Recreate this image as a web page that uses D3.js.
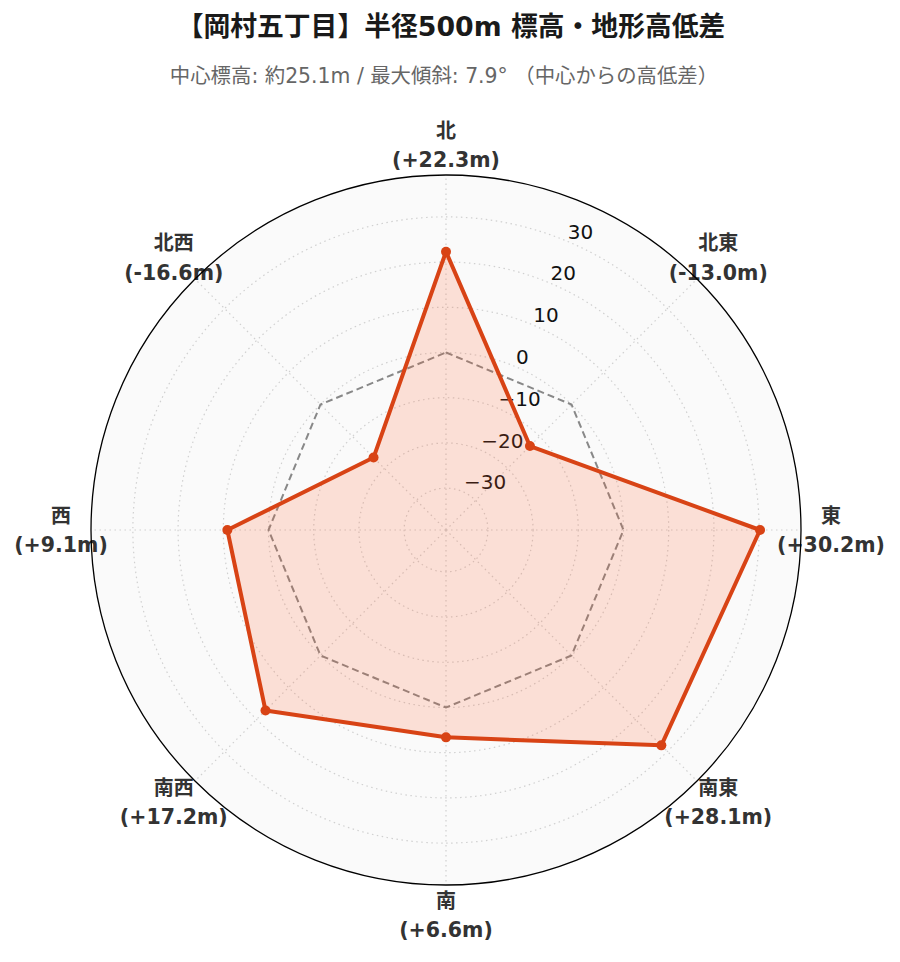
<!DOCTYPE html>
<html>
<head>
<meta charset="utf-8">
<script src="https://cdn.jsdelivr.net/npm/d3@7"></script>
<style>
  body { margin: 0; background: #fff; }
  svg text { font-family: "DejaVu Sans", "Noto Sans CJK JP", sans-serif; }
</style>
</head>
<body>
<svg id="radar"></svg>
<script>
// directions, clockwise from north
var directions = ["北", "北東", "東", "南東", "南", "南西", "西", "北西"]
// elevation difference from centre (m)
var elevDiff = [22.3, -13.0, 30.2, 28.1, 6.6, 17.2, 9.1, -16.6]
var baseline = [0, 0, 0, 0, 0, 0, 0, 0]
var rTicks = [-30, -20, -10, 0, 10, 20, 30]

var titleText = "【岡村五丁目】半径500m 標高・地形高低差"
var subtitleText = "中心標高: 約25.1m / 最大傾斜: 7.9° （中心からの高低差）"

var dimensions = { width: 900, height: 962 }
var cx = 446, cy = 530, R = 355

var svg = d3.select("#radar")
  .attr("width", dimensions.width)
  .attr("height", dimensions.height)

// title
svg.append("text")
  .attr("x", 451).attr("y", 27)
  .attr("dy", "0.35em")
  .attr("text-anchor", "middle")
  .style("font-weight", "bold")
  .style("font-size", "26.8px")
  .style("fill", "#1a1a1a")
  .text(titleText)

svg.append("text")
  .attr("x", 444).attr("y", 76)
  .attr("dy", "0.35em")
  .attr("text-anchor", "middle")
  .style("font-size", "20.4px")
  .style("fill", "#666")
  .text(subtitleText)

// radial scale, limits at +-1.3 x largest difference
var rMax = d3.max(elevDiff, function(d){ return Math.abs(d) }) * 1.3
var r = d3.scaleLinear()
  .domain([-rMax, rMax])
  .range([0, R])

var angle = d3.scalePoint()
  .domain(d3.range(directions.length))
  .range([0, 2 * Math.PI * (directions.length - 1) / directions.length])

var g = svg.append("g")
  .attr("transform", "translate(" + cx + "," + cy + ")")

// background
g.append("circle")
  .attr("r", R)
  .style("fill", "#fafafa")

// direction labels (under the frame)
var labelR = R + 30
var lab = g.selectAll("g.dirlabel")
  .data(directions)
  .join("g")
  .attr("class", "dirlabel")
  .attr("transform", function(d, i) {
    var a = angle(i)
    return "translate(" + (labelR * Math.sin(a)) + "," + (-labelR * Math.cos(a)) + ")"
  })
lab.append("text")
  .attr("y", -14.5).attr("dy", "0.35em")
  .attr("text-anchor", "middle")
  .style("font-weight", "bold")
  .style("font-size", "20px")
  .style("fill", "#333")
  .text(function(d){ return d })
lab.append("text")
  .attr("y", 15).attr("dy", "0.35em")
  .attr("text-anchor", "middle")
  .style("font-weight", "bold")
  .style("font-size", "20.5px")
  .style("fill", "#333")
  .text(function(d, i){
    var v = elevDiff[i]
    return "(" + (v >= 0 ? "+" : "") + v.toFixed(1) + "m)"
  })

// grid circles
g.selectAll("circle.grid")
  .data(rTicks)
  .join("circle")
  .attr("class", "grid")
  .attr("r", function(d){ return r(d) })
  .style("fill", "none")
  .style("stroke", "#d0d0d0")
  .style("stroke-width", 1.2)
  .style("stroke-dasharray", "1.5,3.5")

// spokes
g.selectAll("line.spoke")
  .data(directions)
  .join("line")
  .attr("class", "spoke")
  .attr("x1", 0).attr("y1", 0)
  .attr("x2", function(d, i){ return R * Math.sin(angle(i)) })
  .attr("y2", function(d, i){ return -R * Math.cos(angle(i)) })
  .style("stroke", "#d0d0d0")
  .style("stroke-width", 1.2)
  .style("stroke-dasharray", "1.5,3.5")

// tick labels along 22.5 deg
var tickA = Math.PI / 8
g.selectAll("text.rtick")
  .data(rTicks)
  .join("text")
  .attr("class", "rtick")
  .attr("x", function(d){ return r(d) * Math.sin(tickA) + 2 })
  .attr("y", function(d){ return -r(d) * Math.cos(tickA) - 2 })
  .style("font-size", "20px")
  .style("fill", "#111")
  .text(function(d){ return d < 0 ? "\u2212" + Math.abs(d) : d })

var radial = d3.lineRadial()
  .angle(function(d, i){ return angle(i) })
  .radius(function(d){ return r(d) })
  .curve(d3.curveLinearClosed)

// zero level
g.append("path")
  .datum(baseline)
  .attr("d", radial)
  .style("fill", "none")
  .style("stroke", "#888")
  .style("stroke-width", 2)
  .style("stroke-dasharray", "7,4")

// data
g.append("path")
  .datum(elevDiff)
  .attr("d", radial)
  .style("fill", "#ff5722")
  .style("fill-opacity", 0.17)
  .style("stroke", "#d84315")
  .style("stroke-width", 4)
  .style("stroke-linejoin", "round")

g.selectAll("circle.pt")
  .data(elevDiff)
  .join("circle")
  .attr("class", "pt")
  .attr("cx", function(d, i){ return r(d) * Math.sin(angle(i)) })
  .attr("cy", function(d, i){ return -r(d) * Math.cos(angle(i)) })
  .attr("r", 5)
  .style("fill", "#d84315")

// frame
g.append("circle")
  .attr("r", R)
  .style("fill", "none")
  .style("stroke", "#000")
  .style("stroke-width", 1.3)
</script>
</body>
</html>
